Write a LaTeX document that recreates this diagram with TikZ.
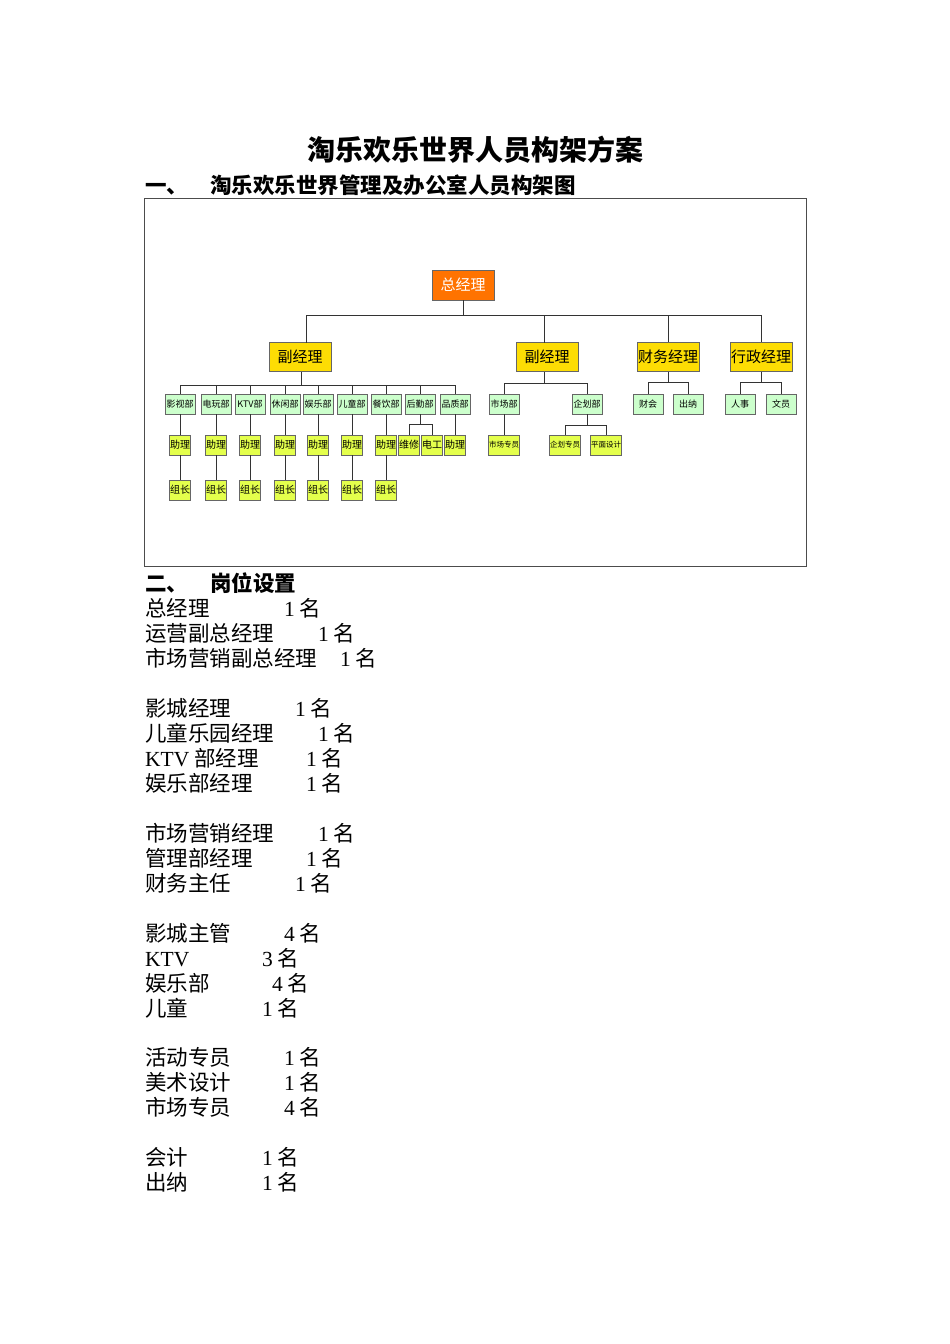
\documentclass[tikz,border=0pt]{standalone}
\usepackage{fontspec}
\setmainfont{Liberation Serif}
\newfontfamily\cjk{Noto Sans CJK SC}
\begin{document}
\begin{tikzpicture}[x=1pt,y=-1pt,
 top/.style={draw=black!60,fill=orange!90!red,text=white,minimum width=62,minimum height=30,inner sep=0,font=\cjk\fontsize{15}{17}\selectfont},
 mgr/.style={draw=black!60,fill=yellow!80!orange,minimum width=62,minimum height=29,inner sep=0,font=\cjk\fontsize{15}{17}\selectfont},
 dept/.style={draw=black!60,fill=green!20,minimum width=30,minimum height=20,inner sep=0,font=\cjk\fontsize{9}{10}\selectfont},
 sub/.style={draw=black!60,fill=lime!60!yellow!70,minimum width=21,minimum height=20,inner sep=0,font=\cjk\fontsize{10}{11}\selectfont},
 wsub/.style={sub,minimum width=31,font=\cjk\fontsize{7.5}{9}\selectfont},
 ln/.style={draw=black!80,line width=0.8},
 tx/.style={anchor=base west,inner sep=0,font=\cjk\fontsize{21.5}{24}\selectfont}]
\useasboundingbox (0,0) rectangle (950,1344);
\node[font=\cjk\bfseries\fontsize{28}{30}\selectfont] (title) at (475,150) {淘乐欢乐世界人员构架方案};
\node[tx,font=\cjk\bfseries\fontsize{21.5}{24}\selectfont] (h1) at (145,193) {一、\hspace{22pt}淘乐欢乐世界管理及办公室人员构架图};
\draw[black!70] (144,198) rectangle (806,566);
% top
\node[top] (gm) at (463,285) {总经理};
\node[mgr] (m1) at (300,357) {副经理};
\node[mgr] (m2) at (547,357) {副经理};
\node[mgr] (m3) at (668,357) {财务经理};
\node[mgr] (m4) at (761,357) {行政经理};
\draw[ln] (gm.south) -- (463,315) coordinate (b0);
\draw[ln] (306,315) -- (761,315);
\draw[ln] (306,315) -- (306,343);
\draw[ln] (544,315) -- (544,343);
\draw[ln] (668,315) -- (m3.north);
\draw[ln] (761,315) -- (m4.north);
% left depts
\foreach \n/\x/\t in {d1/180/影视部,d2/216/电玩部,d3/250/KTV部,d4/285/休闲部,d5/318/娱乐部,d6/352/儿童部,d7/386/餐饮部,d8/420/后勤部,d9/455/品质部}{
 \node[dept] (\n) at (\x,404) {\t};
 \draw[ln] (\x,385) -- (\n.north);}
\draw[ln] (180,385) -- (455,385);
\draw[ln] (301,372) -- (301,385);
\foreach \n/\x in {d1/180,d2/216,d3/250,d4/285,d5/318,d6/352,d7/386}{
 \node[sub] (a\n) at (\x,445) {助理};
 \node[sub] (g\n) at (\x,490) {组长};
 \draw[ln] (\n.south) -- (a\n.north);
 \draw[ln] (a\n.south) -- (g\n.north);}
\node[sub] (wx) at (409,445) {维修};
\node[sub] (dg) at (432,445) {电工};
\node[sub] (a9) at (455,445) {助理};
\draw[ln] (d8.south) -- (420,424);
\draw[ln] (409,424) -- (432,424);
\draw[ln] (409,424) -- (wx.north);
\draw[ln] (432,424) -- (dg.north);
\draw[ln] (d9.south) -- (a9.north);
% right of m2
\node[dept] (sc) at (504,404) {市场部};
\node[dept] (qh) at (587,404) {企划部};
\draw[ln] (544,372) -- (544,383);
\draw[ln] (504,383) -- (587,383);
\draw[ln] (504,383) -- (sc.north);
\draw[ln] (587,383) -- (qh.north);
\node[wsub] (scy) at (504,445) {市场专员};
\draw[ln] (sc.south) -- (scy.north);
\node[wsub] (qhy) at (565,445) {企划专员};
\node[wsub] (pm) at (606,445) {平面设计};
\draw[ln] (qh.south) -- (587,425);
\draw[ln] (565,425) -- (606,425);
\draw[ln] (565,425) -- (qhy.north);
\draw[ln] (606,425) -- (pm.north);
% finance
\node[dept] (ck) at (648,404) {财会};
\node[dept] (cn) at (688,404) {出纳};
\draw[ln] (m3.south) -- (668,382);
\draw[ln] (648,382) -- (688,382);
\draw[ln] (648,382) -- (ck.north);
\draw[ln] (688,382) -- (cn.north);
\node[dept] (rs) at (740,404) {人事};
\node[dept] (wy) at (781,404) {文员};
\draw[ln] (m4.south) -- (761,382);
\draw[ln] (740,382) -- (781,382);
\draw[ln] (740,382) -- (rs.north);
\draw[ln] (781,382) -- (wy.north);
% text
\node[tx,font=\cjk\bfseries\fontsize{21.5}{24}\selectfont] (h2) at (145,591) {二、\hspace{22pt}岗位设置};
\foreach \y/\a/\x/\b [count=\i] in {616/总经理/284/1,641/运营副总经理/318/1,666/市场营销副总经理/340/1,
 716/影城经理/295/1,741/儿童乐园经理/318/1,766/{\rmfamily KTV} 部经理/306/1,791/娱乐部经理/306/1,
 841/市场营销经理/318/1,866/管理部经理/306/1,891/财务主任/295/1,
 941/影城主管/284/4,966/{\rmfamily KTV}/262/3,991/娱乐部/272/4,1016/儿童/262/1,
 1065/活动专员/284/1,1090/美术设计/284/1,1115/市场专员/284/4,
 1165/会计/262/1,1190/出纳/262/1}{
 \node[tx] (l\i) at (145,\y) {\a};
 \node[tx] (n\i) at (\x,\y) {{\rmfamily\b} 名};}
\end{tikzpicture}
\end{document}
